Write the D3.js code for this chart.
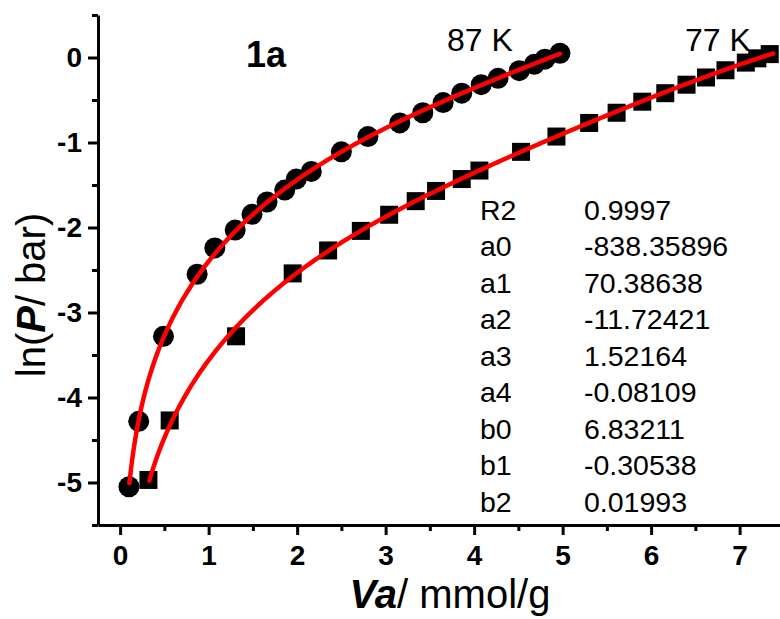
<!DOCTYPE html>
<html>
<head>
<meta charset="utf-8">
<script src="https://cdn.jsdelivr.net/npm/d3@7/dist/d3.min.js"></script>
<style>
  html, body { margin: 0; padding: 0; background: #fff; }
  svg { display: block; }
  text { font-family: Arial, "Liberation Sans", sans-serif; fill: #000; }
</style>
</head>
<body>
<svg id="chart" width="780" height="619"></svg>
<script>
// Adsorption isotherm data, ln(P/bar) versus adsorbed amount Va (mmol/g)
const va87 = [0.10, 0.21, 0.49, 0.87, 1.07, 1.30, 1.49, 1.66, 1.86, 1.99, 2.16, 2.50, 2.80, 3.16, 3.42, 3.65, 3.86, 4.08, 4.27, 4.51, 4.68, 4.80, 4.97];
const lnP87 = [-5.05, -4.28, -3.28, -2.55, -2.24, -2.03, -1.845, -1.70, -1.56, -1.43, -1.34, -1.11, -0.93, -0.77, -0.65, -0.53, -0.42, -0.32, -0.245, -0.155, -0.08, -0.02, 0.05];
const va77 = [0.32, 0.56, 1.31, 1.95, 2.35, 2.72, 3.04, 3.34, 3.57, 3.86, 4.06, 4.53, 4.93, 5.30, 5.61, 5.90, 6.16, 6.40, 6.62, 6.84, 7.07, 7.20, 7.34];
const lnP77 = [-4.97, -4.27, -3.28, -2.54, -2.27, -2.04, -1.85, -1.69, -1.57, -1.43, -1.33, -1.11, -0.93, -0.77, -0.65, -0.52, -0.42, -0.32, -0.235, -0.15, -0.06, -0.01, 0.04];

// Virial fit parameters
const paramNames = ["R2", "a0", "a1", "a2", "a3", "a4", "b0", "b1", "b2"];
const paramValues = ["0.9997", "-838.35896", "70.38638", "-11.72421", "1.52164", "-0.08109", "6.83211", "-0.30538", "0.01993"];
const aCoef = [-838.35896, 70.38638, -11.72421, 1.52164, -0.08109];
const bCoef = [6.83211, -0.30538, 0.01993];

// Fitted ranges of each curve
const fits = [
  { label: "87 K", T: 87, from: 0.105, to: 4.97 },
  { label: "77 K", T: 77, from: 0.33, to: 7.38 }
];

const xTicks = [0, 1, 2, 3, 4, 5, 6, 7];
const yTicks = [0, -1, -2, -3, -4, -5];

const svg = d3.select("#chart");

const x = d3.scaleLinear().domain([-0.25, 7.5]).range([98, 98 + 7.75 * 88.5]);
const y = d3.scaleLinear().domain([-5.5, 0.5]).range([525, 15]);

// ln P = ln Va + (1/T) * sum(a_i Va^i) + sum(b_i Va^i)
function virial(v, T) {
  const a = aCoef.reduce((s, c, i) => s + c * Math.pow(v, i), 0);
  const b = bCoef.reduce((s, c, i) => s + c * Math.pow(v, i), 0);
  return Math.log(v) + a / T + b;
}

// Plain hyphen for negative tick labels
const fmt = d => String(d);

function styleAxis(g) {
  g.selectAll("path.domain").attr("stroke", "#000").attr("stroke-width", 3);
  g.selectAll("line").attr("stroke", "#000").attr("stroke-width", 3);
}

// Minor ticks at the halves
const xMinor = d3.range(0.5, 7.5, 1);
const yMinor = d3.range(-5.5, 0.51, 1);

const gxMinor = svg.append("g").attr("transform", `translate(0,${y(-5.5)})`)
  .call(d3.axisBottom(x).tickValues(xMinor).tickSize(6).tickFormat("").tickSizeOuter(0));
gxMinor.select("path.domain").remove();
styleAxis(gxMinor);

const gyMinor = svg.append("g").attr("transform", `translate(${x(-0.25)},0)`)
  .call(d3.axisLeft(y).tickValues(yMinor).tickSize(6).tickFormat("").tickSizeOuter(0));
gyMinor.select("path.domain").remove();
styleAxis(gyMinor);

// Major ticks with labels
const gx = svg.append("g").attr("transform", `translate(0,${y(-5.5)})`)
  .call(d3.axisBottom(x).tickValues(xTicks).tickSize(10).tickSizeOuter(0).tickPadding(10).tickFormat(fmt));
styleAxis(gx);
gx.selectAll("text").attr("font-size", 28).attr("font-weight", "bold")
  .attr("font-family", "Arial, 'Liberation Sans', sans-serif").attr("fill", "#000");

const gy = svg.append("g").attr("transform", `translate(${x(-0.25)},0)`)
  .call(d3.axisLeft(y).tickValues(yTicks).tickSize(10).tickSizeOuter(0).tickPadding(6).tickFormat(fmt));
styleAxis(gy);
gy.selectAll("text").attr("font-size", 28).attr("font-weight", "bold")
  .attr("font-family", "Arial, 'Liberation Sans', sans-serif").attr("fill", "#000");

// Axis titles
const xt = svg.append("text").attr("x", 450).attr("y", 608).attr("text-anchor", "middle").attr("font-size", 40);
xt.append("tspan").attr("font-weight", "bold").attr("font-style", "italic").text("Va");
xt.append("tspan").text("/ mmol/g");

const yt = svg.append("text").attr("transform", "translate(45,295) rotate(-90)")
  .attr("text-anchor", "middle").attr("font-size", 40);
yt.append("tspan").text("ln(");
yt.append("tspan").attr("font-weight", "bold").attr("font-style", "italic").text("P");
yt.append("tspan").text("/ bar)");

// Data markers
const d87 = va87.map((v, i) => [v, lnP87[i]]);
const d77 = va77.map((v, i) => [v, lnP77[i]]);

svg.append("g").selectAll("circle").data(d87).join("circle")
  .attr("cx", d => x(d[0])).attr("cy", d => y(d[1])).attr("r", 10.5).attr("fill", "#000");

const sq = 18;
svg.append("g").selectAll("rect").data(d77).join("rect")
  .attr("x", d => x(d[0]) - sq / 2).attr("y", d => y(d[1]) - sq / 2)
  .attr("width", sq).attr("height", sq).attr("fill", "#000");

// Fitted curves
const line = d3.line().x(d => x(d[0])).y(d => y(d[1])).curve(d3.curveLinear);
fits.forEach(f => {
  const pts = d3.range(0, 301).map(i => {
    const v = f.from + (f.to - f.from) * i / 300;
    return [v, virial(v, f.T)];
  });
  svg.append("path").datum(pts).attr("d", line)
    .attr("fill", "none").attr("stroke", "#ff0000").attr("stroke-width", 4.5)
    .attr("stroke-linecap", "round");
});

// Temperature labels
svg.append("text").attr("x", 447).attr("y", 51).attr("font-size", 32).text(fits[0].label);
svg.append("text").attr("x", 685).attr("y", 51).attr("font-size", 32).text(fits[1].label);

// Panel label
svg.append("text").attr("x", 246).attr("y", 67).attr("font-size", 36).attr("font-weight", "bold").text("1a");

// Fit parameter table
const tbl = svg.append("g");
paramNames.forEach((n, i) => {
  const by = 220 + i * 36.46;
  tbl.append("text").attr("x", 480).attr("y", by).attr("font-size", 28.5).text(n);
  tbl.append("text").attr("x", 584).attr("y", by).attr("font-size", 28.5).text(paramValues[i]);
});
</script>
</body>
</html>
